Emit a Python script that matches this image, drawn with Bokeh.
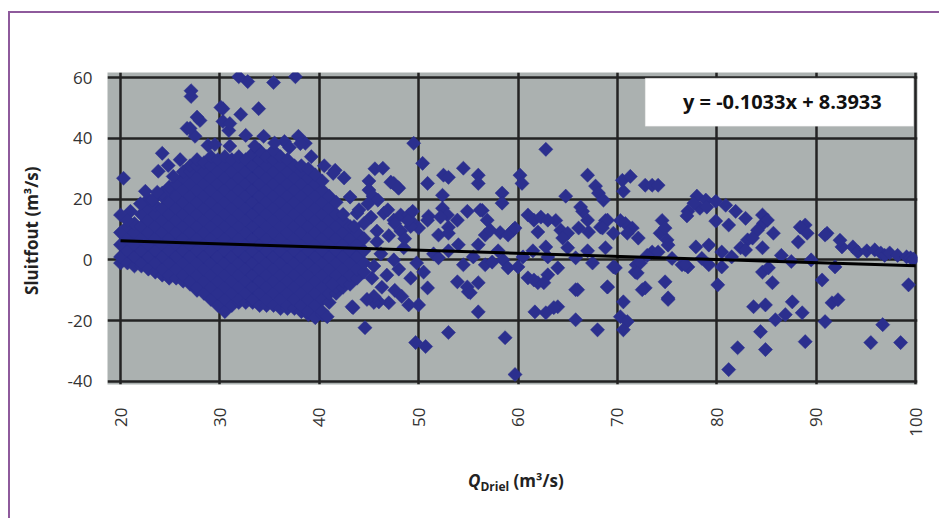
import math
from bokeh.plotting import figure
from bokeh.layouts import column
from bokeh.models import FixedTicker, BoxAnnotation, Label, ColumnDataSource, Div
from bokeh.embed import file_html
from bokeh.resources import INLINE

# ---------------- data ----------------
x_ticks = [20, 30, 40, 50, 60, 70, 80, 90, 100]
y_ticks = [-40, -20, 0, 20, 40, 60]

# dense cloud 20-45 m3/s: Q value of each column and the Sluitfout values seen in it
blob_x = [20.0, 20.7, 21.4, 22.1, 22.8, 23.5, 24.2, 24.9, 25.6, 26.3, 27.0, 27.7,
          28.4, 29.1, 29.8, 30.5, 31.2, 31.9, 32.6, 33.3, 34.0, 34.7, 35.4, 36.1,
          36.8, 37.5, 38.2, 38.9, 39.6, 40.3, 41.0, 41.7, 42.4, 43.1, 43.8, 44.5]
blob_y = [
    [-1, 1, 5, 9],
    [-1, 3, 7, 11],
    [-2, 1, 5, 9, 12],
    [-2, -1, 3, 7, 11, 15],
    [-3, 1, 5, 9, 13, 17, 20],
    [-4, -1, 3, 7, 11, 15, 18],
    [-5, -3, 1, 5, 9, 13, 17, 21, 22],
    [-6, -5, -1, 3, 7, 11, 15, 19, 23, 24],
    [-6, -3, 1, 5, 9, 13, 17, 21, 25],
    [-7, -5, -1, 3, 7, 11, 15, 19, 23, 27, 29],
    [-8, -7, -3, 1, 5, 9, 13, 17, 21, 25, 29, 31],
    [-10, -9, -5, -1, 3, 7, 11, 15, 19, 23, 27, 31, 33],
    [-11, -7, -3, 1, 5, 9, 13, 17, 21, 25, 29, 32],
    [-13, -9, -5, -1, 3, 7, 11, 15, 19, 23, 27, 31, 34],
    [-15, -11, -7, -3, 1, 5, 9, 13, 17, 21, 25, 29, 33],
    [-17, -13, -9, -5, -1, 3, 7, 11, 15, 19, 23, 27, 31, 34],
    [-15, -11, -7, -3, 1, 5, 9, 13, 17, 21, 25, 29, 33],
    [-14, -13, -9, -5, -1, 3, 7, 11, 15, 19, 23, 27, 31, 34],
    [-14, -11, -7, -3, 1, 5, 9, 13, 17, 21, 25, 29, 33],
    [-14, -13, -9, -5, -1, 3, 7, 11, 15, 19, 23, 27, 31, 35],
    [-15, -11, -7, -3, 1, 5, 9, 13, 17, 21, 25, 29, 33, 36],
    [-15, -13, -9, -5, -1, 3, 7, 11, 15, 19, 23, 27, 31, 34],
    [-15, -11, -7, -3, 1, 5, 9, 13, 17, 21, 25, 29, 33, 36],
    [-16, -13, -9, -5, -1, 3, 7, 11, 15, 19, 23, 27, 31, 34],
    [-16, -15, -11, -7, -3, 1, 5, 9, 13, 17, 21, 25, 29, 33],
    [-16, -13, -9, -5, -1, 3, 7, 11, 15, 19, 23, 27, 31],
    [-17, -15, -11, -7, -3, 1, 5, 9, 13, 17, 21, 25, 29, 31],
    [-18, -17, -13, -9, -5, -1, 3, 7, 11, 15, 19, 23, 27, 30],
    [-19, -15, -11, -7, -3, 1, 5, 9, 13, 17, 21, 25, 28],
    [-18, -17, -13, -9, -5, -1, 3, 7, 11, 15, 19, 23, 26],
    [-14, -11, -7, -3, 1, 5, 9, 13, 17, 21],
    [-11, -9, -5, -1, 3, 7, 11, 15, 19],
    [-9, -7, -3, 1, 5, 9, 13, 15],
    [-8, -5, -1, 3, 7, 11],
    [-6, -3, 1, 5, 9],
    [-4, -1, 3, 7],
]

outliers_high = [
    (31.9, 60.3), (32.8, 58.7), (35.4, 58.4), (37.6, 60.3), (27.1, 55.7), (27.1, 53.8),
    (30.3, 49.8), (33.9, 49.8), (32.1, 47.9), (28.0, 45.9), (26.7, 43.3), (30.3, 45.6),
    (30.9, 42.6), (27.5, 40.7), (28.8, 37.7), (24.2, 35.1), (32.6, 41.0), (34.4, 40.7),
    (37.9, 40.7), (38.6, 38.4), (36.5, 39.0), (20.3, 26.9), (22.5, 22.6), (23.8, 29.2),
    (41.6, 29.5), (42.5, 27.0), (45.0, 26.0), (45.6, 30.0), (20.0, 14.8), (21.0, 16.0),
    (20.7, 13.0), (24.8, 31.1), (27.7, 47.0), (27.0, 43.3), (30.1, 50.2), (31.0, 44.9),
    (38.1, 38.3), (29.5, 38.0), (31.0, 37.5), (33.5, 37.5), (35.5, 38.5), (37.0, 37.0),
    (39.2, 34.0), (40.5, 31.0), (41.4, 28.5), (43.1, 20.7), (23.2, 19.7), (23.7, 22.3),
    (26.0, 33.0), (25.3, 27.5), (22.0, 18.5),
]
mid_upper = [
    (49.5, 38.4), (62.8, 36.4), (46.4, 30.2), (50.4, 31.8), (47.5, 25.2), (48.0, 23.6),
    (50.9, 25.2), (52.5, 27.9), (53.0, 27.2), (54.5, 30.2), (56.0, 27.9), (56.0, 25.2),
    (58.4, 22.0), (58.4, 18.7), (52.4, 21.3), (52.4, 17.0), (60.2, 27.9), (60.4, 25.2),
    (64.8, 21.0), (67.0, 27.9), (67.8, 24.3), (68.1, 22.0), (68.6, 19.7), (70.5, 26.2),
    (71.3, 27.5), (70.6, 22.6), (72.8, 24.6), (73.5, 24.6), (74.1, 24.6), (45.0, 23.0),
    (45.4, 21.0), (45.9, 19.7), (47.2, 25.6), (47.9, 23.9),
]
mid_band = [
    (48.2, 14.8), (49.0, 14.8), (51.0, 14.4), (52.9, 14.8), (54.9, 16.0), (56.4, 16.3),
    (61.0, 14.8), (63.8, 13.0), (66.5, 16.0), (68.8, 13.0), (70.8, 12.0), (43.8, 15.4),
    (45.2, 14.1), (46.5, 15.4), (47.5, 13.1), (49.5, 12.0), (50.0, 10.5), (49.2, 11.0),
    (50.9, 13.1), (52.2, 14.1), (53.0, 10.8), (53.9, 13.1), (56.2, 16.4), (56.9, 13.1),
    (58.2, 9.0), (59.5, 9.8), (61.6, 13.1), (62.3, 14.1), (63.0, 13.1), (64.3, 9.8),
    (65.0, 8.8), (66.3, 17.4), (67.0, 13.1), (68.3, 10.8), (69.0, 13.1), (69.6, 8.8),
    (46.9, 16.5), (47.6, 12.0), (48.2, 9.5), (48.9, 13.0), (49.4, 16.0), (44.5, 12.0),
    (44.0, 16.5), (43.5, 11.0), (45.8, 9.5), (44.9, 18.5),
    (52.0, 8.2), (53.0, 8.8), (56.7, 8.2), (57.2, 9.8), (59.0, 8.2), (59.7, 10.5),
    (62.0, 9.2), (64.5, 7.2), (66.1, 10.5), (67.1, 9.2), (68.5, 10.5), (71.5, 10.5), (72.1, 7.2),
]
near_line = [
    (45.5, -2.0), (46.2, 2.0), (46.8, -5.0), (47.5, 0.0), (48.0, -3.0), (48.5, 4.0),
    (49.2, -6.0), (49.8, -1.0), (45.8, 6.0), (47.0, 8.0), (48.6, 7.0), (46.3, -9.0),
    (47.6, -10.0), (48.3, -12.0), (45.3, -6.0), (50.5, -4.0), (51.5, 2.0), (53.0, 3.0),
    (54.0, 5.0), (55.5, 1.0), (56.0, 5.0), (58.0, 3.0), (58.5, 0.0), (60.5, 1.0),
    (61.5, 3.0), (63.0, 1.0), (65.0, 4.0), (67.0, 3.0), (67.5, -1.0), (52.0, 0.7),
    (62.8, 4.3), (65.8, 0.7), (68.8, 4.0), (56.7, -1.6), (57.4, -0.7), (54.5, -1.6),
    (59.0, -2.6), (60.0, -2.3), (64.0, -2.6), (63.0, -4.9), (61.0, -5.9), (62.0, -7.5),
    (61.6, -6.6), (62.6, -7.5), (53.9, -7.2), (55.0, -10.5), (56.0, -7.5), (54.9, -8.9),
    (55.2, -10.8), (50.9, -9.2), (65.8, -9.8), (66.0, -9.8), (69.0, -8.9), (69.8, -2.6),
    (71.8, -4.0), (41.3, -8.0),
]
mid_lower = [
    (59.7, -37.7), (58.7, -25.6), (53.0, -23.9), (49.7, -27.2), (50.7, -28.5), (56.0, -17.1),
    (65.8, -19.7), (68.0, -23.0), (61.7, -17.1), (62.8, -17.4), (64.0, -15.4), (63.6, -15.7),
    (50.0, -14.8), (49.0, -14.8), (47.0, -14.1), (46.0, -13.8), (43.4, -15.7), (45.5, -14.0),
    (44.6, -22.3), (40.8, -18.7), (43.3, -15.4), (45.5, -12.0), (44.8, -13.0),
]
right_upper = [
    (78.0, 21.0), (78.9, 19.7), (79.9, 19.3), (77.1, 16.0), (78.3, 17.0), (80.9, 18.0),
    (81.9, 16.0), (79.9, 12.8), (81.2, 11.5), (84.6, 14.8), (84.7, 12.1), (88.9, 11.5),
    (74.5, 13.0), (82.9, 13.7), (91.1, 8.8), (88.4, 10.8), (89.1, 8.8), (85.1, 13.1),
    (84.1, 9.8), (77.7, 18.7), (79.0, 17.4), (77.0, 14.5), (83.1, 6.6), (82.4, 4.0),
    (74.3, 8.8), (75.0, 6.6), (70.3, 13.0), (71.0, 8.8), (74.8, 10.5), (75.1, 4.9),
    (73.5, 2.6), (74.1, 2.6), (77.9, 4.3), (79.2, 4.9), (80.5, 2.6), (83.6, 7.2),
    (82.9, 3.3), (84.6, 4.0), (85.7, 8.8), (88.2, 5.9), (90.9, 8.2), (92.6, 4.3),
    (92.4, 6.5), (93.7, 4.3), (94.2, 2.6), (95.1, 3.0), (95.9, 3.3), (96.5, 2.3),
    (96.9, 1.5), (97.4, 2.3), (98.2, 1.5), (99.1, 1.0), (99.5, 0.7), (99.8, 0.3),
    (73.0, 1.5), (75.5, 0.5), (78.5, 0.5), (81.5, 1.0), (86.5, 1.5), (89.5, 0.0), (87.5, -0.5),
]
right_lower = [
    (71.9, -1.6), (76.5, -1.6), (77.1, -2.3), (79.2, -1.6), (80.5, -2.3), (69.6, -2.3),
    (72.3, -1.0), (72.0, -4.3), (76.8, -1.6), (84.6, -4.0), (85.2, -2.6), (91.9, -2.3),
    (74.8, -7.2), (75.1, -12.5), (72.8, -9.2), (80.1, -8.2), (85.6, -7.5), (83.7, -15.4),
    (84.9, -14.8), (87.6, -13.8), (88.6, -17.4), (85.9, -19.7), (86.9, -18.0), (84.4, -23.6),
    (82.1, -28.9), (84.9, -29.5), (81.2, -36.1), (88.9, -26.9), (90.6, -6.6), (91.6, -14.1),
    (92.2, -13.1), (90.9, -20.3), (96.7, -21.3), (95.5, -27.2), (98.5, -27.2), (99.3, -8.2),
    (69.0, -8.9), (72.5, -9.8), (70.6, -13.8), (70.3, -18.7), (71.0, -20.3), (70.6, -23.0),
    (75.1, -13.0),
]

trend_slope = -0.1033
trend_intercept = 8.3933
trend_x = [20, 100]
equation_text = "y = -0.1033x + 8.3933"

# ---------------- build sources ----------------
xs, ys = [], []
for qx, col in zip(blob_x, blob_y):
    for v in col:
        xs.append(qx)
        ys.append(v)
for group in (outliers_high, mid_upper, mid_band, near_line, mid_lower, right_upper, right_lower):
    for qx, v in group:
        xs.append(qx)
        ys.append(v)
pts = ColumnDataSource(data=dict(x=xs, y=ys))
trend = ColumnDataSource(data=dict(x=trend_x, y=[trend_slope * q + trend_intercept for q in trend_x]))

# ---------------- figure ----------------
PURPLE = "#8E5A9C"
FONT = "Open Sans"
p = figure(frame_width=810, frame_height=312,
           x_range=(18.69, 100.2), y_range=(-41.0, 61.7),
           output_backend="svg", toolbar_location=None,
           min_border_left=97, min_border_right=22, min_border_top=59, min_border_bottom=60,
           background_fill_color="#ABB1B0", border_fill_color="white")
p.outline_line_color = None

p.xaxis.ticker = FixedTicker(ticks=x_ticks)
p.yaxis.ticker = FixedTicker(ticks=y_ticks)
p.xgrid.ticker = FixedTicker(ticks=x_ticks)
p.ygrid.ticker = FixedTicker(ticks=y_ticks)
p.yaxis.major_label_overrides = {t: str(t) for t in y_ticks}
p.grid.grid_line_color = "#232323"
p.grid.grid_line_width = 2.5

p.axis.axis_line_color = None
p.axis.major_tick_line_color = None
p.axis.minor_tick_line_color = None
p.axis.major_label_text_font = FONT
p.axis.major_label_text_font_size = "17px"
p.axis.major_label_text_color = "#333333"
p.xaxis.major_label_orientation = math.pi / 2
p.xaxis.major_label_standoff = 17
p.yaxis.major_label_standoff = 9

p.yaxis.axis_label = "Sluitfout  (m³/s)"
p.yaxis.axis_label_text_font = FONT
p.yaxis.axis_label_text_font_style = "bold"
p.yaxis.axis_label_text_font_size = "17px"
p.yaxis.axis_label_text_color = "#222222"
p.yaxis.axis_label_standoff = 22

p.scatter("x", "y", source=pts, marker="square", angle=math.pi / 4, size=10,
          fill_color="#2B2F8E", line_color="#2B2F8E", line_width=0.5)
p.line("x", "y", source=trend, line_color="black", line_width=3)

p.add_layout(BoxAnnotation(left=72.8, right=99.8, bottom=44.0, top=59.8,
                           fill_color="white", fill_alpha=1.0,
                           line_color="#d9d9d9", line_width=1))
p.add_layout(Label(x=86.6, y=52.1, text=equation_text, text_align="center",
                   text_baseline="middle", text_font=FONT,
                   text_font_style="bold", text_font_size="20px", text_color="#111111"))

# x axis title: Q (italic) with subscript Driel, then (m³/s)
x_title = Div(
    text=('<div style="margin-left:453px; margin-top:20px; white-space:nowrap; '
          f'font-family:\'{FONT}\'; font-weight:bold; font-size:17px; line-height:23px; color:#222222;">'
          '<i>Q</i><sub style="font-size:12px; line-height:0;">Driel</sub> (m³/s)</div>'),
    width=929, height=74)

layout = column(p, x_title, spacing=0,
                styles={"margin-left": "8px", "margin-top": "11px",
                        "border-left": f"2px solid {PURPLE}", "border-top": f"2px solid {PURPLE}",
                        "background-color": "white"})

open("out.html", "w").write(file_html(layout, INLINE))
